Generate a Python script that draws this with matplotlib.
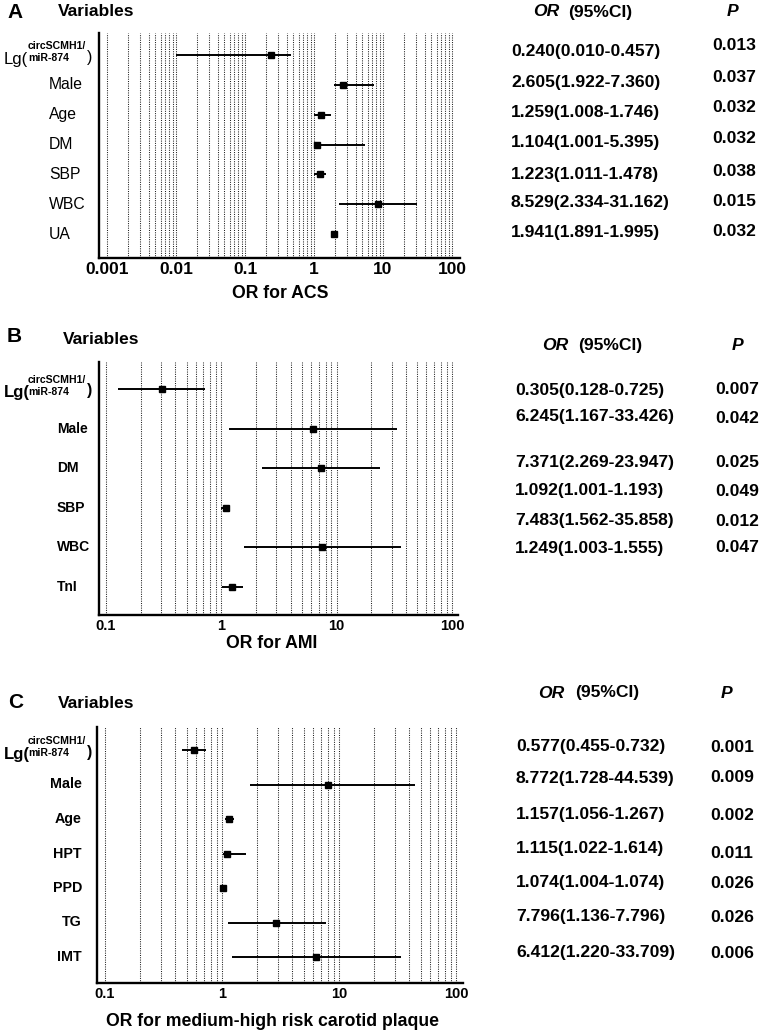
import matplotlib
matplotlib.use('Agg')
import matplotlib.pyplot as plt
import numpy as np
from matplotlib.ticker import FixedLocator, NullFormatter
from matplotlib.transforms import blended_transform_factory, offset_copy

W, H = 759, 1031
plt.rcParams['font.family'] = ['Liberation Sans', 'DejaVu Sans']

# ---- data (A: ACS, B: AMI, C: carotid plaque) ----
LG = 'LG'
a_vars = [LG, 'Male', 'Age', 'DM', 'SBP', 'WBC', 'UA']
a_or = [0.240, 2.605, 1.259, 1.104, 1.223, 8.529, 1.941]
a_lo = [0.010, 1.922, 1.008, 1.001, 1.011, 2.334, 1.891]
a_hi = [0.457, 7.360, 1.746, 5.395, 1.478, 31.162, 1.995]
a_ci = ['0.240(0.010-0.457)', '2.605(1.922-7.360)', '1.259(1.008-1.746)',
        '1.104(1.001-5.395)', '1.223(1.011-1.478)', '8.529(2.334-31.162)',
        '1.941(1.891-1.995)']
a_p = ['0.013', '0.037', '0.032', '0.032', '0.038', '0.015', '0.032']

b_vars = [LG, 'Male', 'DM', 'SBP', 'WBC', 'TnI']
b_or = [0.305, 6.245, 7.371, 1.092, 7.483, 1.249]
b_lo = [0.128, 1.167, 2.269, 1.001, 1.562, 1.003]
b_hi = [0.725, 33.426, 23.947, 1.193, 35.858, 1.555]
b_ci = ['0.305(0.128-0.725)', '6.245(1.167-33.426)', '7.371(2.269-23.947)',
        '1.092(1.001-1.193)', '7.483(1.562-35.858)', '1.249(1.003-1.555)']
b_p = ['0.007', '0.042', '0.025', '0.049', '0.012', '0.047']

c_vars = [LG, 'Male', 'Age', 'HPT', 'PPD', 'TG', 'IMT']
c_or = [0.577, 8.0, 1.157, 1.115, 1.03, 2.9, 6.412]   # as drawn
c_lo = [0.455, 1.728, 1.056, 1.022, 1.004, 1.136, 1.220]
c_hi = [0.732, 44.539, 1.267, 1.614, 1.074, 7.796, 33.709]
c_ci = ['0.577(0.455-0.732)', '8.772(1.728-44.539)', '1.157(1.056-1.267)',
        '1.115(1.022-1.614)', '1.074(1.004-1.074)', '7.796(1.136-7.796)',
        '6.412(1.220-33.709)']
c_p = ['0.001', '0.009', '0.002', '0.011', '0.026', '0.026', '0.006']

ticks_a = [0.001, 0.01, 0.1, 1, 10, 100]
ticklabels_a = ['0.001', '0.01', '0.1', '1', '10', '100']
ticks_bc = [0.1, 1, 10, 100]
ticklabels_bc = ['0.1', '1', '10', '100']

fig = plt.figure(figsize=(W / 100, H / 100), dpi=100)


def fx(x):
    return x / W


def fy(y):
    return 1 - y / H


def ftext(x, y, s, **kw):
    kw.setdefault('va', 'center')
    kw.setdefault('fontweight', 'bold')
    fig.text(fx(x), fy(y), s, **kw)


def panel(box, rows_px, xlim, ticks, ticklabels, tick_size, names, est, lo, hi,
          lab_x, lab_ha, lab_size, lab_weight, xlabel, xlabel_xy):
    l, t, r, b = box
    ax = fig.add_axes([fx(l), fy(b), (r - l) / W, (b - t) / H])
    ax.set_xscale('log')
    n = len(est)
    y0, y1 = rows_px
    s = (y1 - y0) / (n - 1)
    ax.set_xlim(*xlim)
    ax.set_ylim((n - 1) + (b - y1) / s, -(y0 - t) / s)
    ypos = np.arange(n)

    ax.hlines(ypos, lo, hi, color='black', lw=1.4, zorder=3)
    ax.plot(est, ypos, 's', color='black', ms=4.5, zorder=4)

    ax.set_xticks(ticks, ticklabels, fontsize=tick_size, fontweight='bold')
    minors = [m * d for d in ticks[:-1] for m in range(2, 10)]
    ax.xaxis.set_minor_locator(FixedLocator(minors))
    ax.xaxis.set_minor_formatter(NullFormatter())
    ax.set_yticks([])
    ax.tick_params(axis='both', which='both', length=0, pad=3)
    ax.grid(True, which='both', axis='x', color='#222222', lw=0.75,
            linestyle=(0, (1, 1.2)))
    ax.set_axisbelow(True)
    for sp in ['top', 'right']:
        ax.spines[sp].set_visible(False)
    for sp in ['left', 'bottom']:
        ax.spines[sp].set_linewidth(1.7)

    trans = blended_transform_factory(fig.transFigure, ax.transData)
    for i, name in enumerate(names):
        if name == LG:
            pieces = [(4, 4, 'Lg(', 12, lab_weight),
                      (28, -9, 'circSCMH1/', 7.6, 'bold'),
                      (28, 3, 'miR-874', 7.6, 'bold'),
                      (87, 2, ')', 11.5, lab_weight)]
            for px, dy, txt, fs, fw in pieces:
                tr = offset_copy(trans, fig=fig, y=-dy, units='dots')
                ax.text(fx(px), i, txt, transform=tr, ha='left', va='center',
                        fontsize=fs, fontweight=fw)
        else:
            ax.text(fx(lab_x), i, name, transform=trans, ha=lab_ha, va='center',
                    fontsize=lab_size, fontweight=lab_weight)

    ftext(xlabel_xy[0], xlabel_xy[1], xlabel, ha='center', fontsize=12.7)
    return ax


def table(head_y, or_x, paren_x, p_head_x, ci, ci_x, ci_y, p, p_x, p_y):
    ftext(or_x, head_y, 'OR', fontsize=12.6, fontstyle='italic')
    ftext(paren_x, head_y, '(95%CI)', fontsize=12.6)
    ftext(p_head_x, head_y, 'P', fontsize=12.6, fontstyle='italic')
    for txt, yy in zip(ci, ci_y):
        ftext(ci_x, yy, txt, fontsize=12.6)
    for txt, yy in zip(p, p_y):
        ftext(p_x, yy, txt, fontsize=12.6)


# ---- panel A ----
ftext(7, 13, 'A', fontsize=15)
ftext(58, 12, 'Variables', fontsize=12.5)
panel((99, 33, 460, 258), (55, 234), (10 ** -3.116, 10 ** 2.116),
      ticks_a, ticklabels_a, 12.5, a_vars, a_or, a_lo, a_hi,
      49, 'left', 11.3, 'normal', 'OR for ACS', (280, 293))
table(12, 533, 568, 727, a_ci, 511, [52, 82, 113, 143, 174, 203, 233],
      a_p, 712, [46, 77, 108, 139, 171, 201, 232])

# ---- panel B ----
ftext(7, 337, 'B', fontsize=15)
ftext(63, 340, 'Variables', fontsize=12.5)
panel((99, 362, 458, 615), (389, 587), (10 ** -1.061, 10 ** 2.052),
      ticks_bc, ticklabels_bc, 10.5, b_vars, b_or, b_lo, b_hi,
      57, 'left', 10.0, 'bold', 'OR for AMI', (272, 644))
table(345, 542, 578, 732, b_ci, 515, [390, 417, 462, 490, 520, 548],
      b_p, 715, [390, 418, 463, 492, 522, 548])

# ---- panel C ----
ftext(8, 703, 'C', fontsize=15)
ftext(58, 704, 'Variables', fontsize=12.5)
panel((97, 727, 463, 983), (750, 957), (10 ** -1.068, 10 ** 2.06),
      ticks_bc, ticklabels_bc, 10.5, c_vars, c_or, c_lo, c_hi,
      82, 'right', 10.3, 'bold', 'OR for medium-high risk carotid plaque', (272, 1022))
table(693, 538, 575, 721, c_ci, 516, [747, 778, 815, 848, 883, 917, 952],
      c_p, 710, [747, 778, 815, 853, 884, 917, 954])

fig.savefig('out.png', dpi=100)
